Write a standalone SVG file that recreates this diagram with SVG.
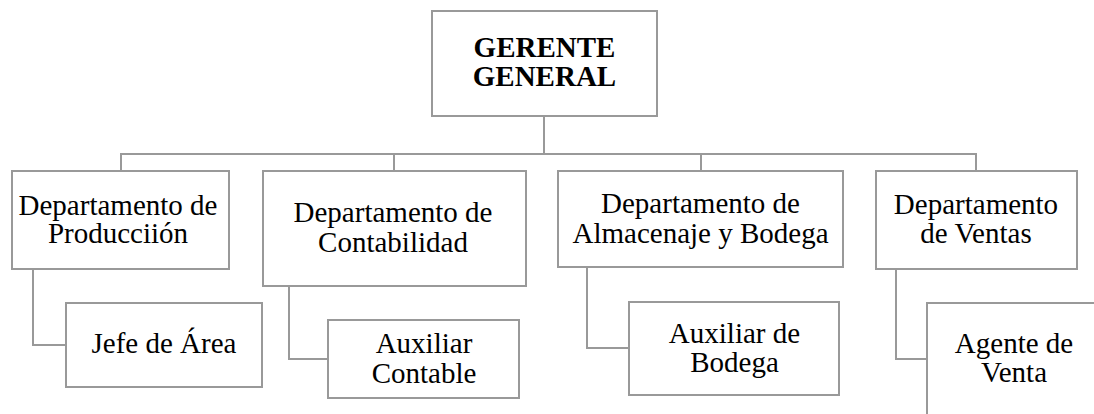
<svg xmlns="http://www.w3.org/2000/svg" width="1094" height="414" viewBox="0 0 1094 414">
<style>
.box{fill:#ffffff;stroke:#999999;stroke-width:2}
.ln{fill:none;stroke:#999999;stroke-width:2}
text{font-size:29px;fill:#000000;text-anchor:middle}
.b{font-weight:bold}
</style>
<rect width="1094" height="414" fill="#ffffff"/>
<g id="connectors">
<path class="ln" d="M544,116 V154"/>
<path class="ln" d="M121,171 V154 H976 V171"/>
<path class="ln" d="M394,154 V171"/>
<path class="ln" d="M701,154 V171"/>
<path class="ln" d="M33,269 V345 H66"/>
<path class="ln" d="M289,286 V359 H328"/>
<path class="ln" d="M587,267 V348 H629"/>
<path class="ln" d="M896,269 V359 H927"/>
</g>
<g font-family="'Liberation Serif', 'Times New Roman', Tinos, 'DejaVu Serif', serif">
<g id="gerente">
<rect class="box" x="432" y="11" width="225" height="105"/>
<text class="b" x="544.5" y="57">GERENTE</text>
<text class="b" x="544.5" y="86">GENERAL</text>
</g>
<g id="produccion">
<rect class="box" x="12" y="171" width="217" height="98"/>
<text x="118" y="215">Departamento de</text>
<text x="118" y="243">Producciión</text>
</g>
<g id="contabilidad">
<rect class="box" x="263" y="171" width="263" height="115"/>
<text x="393" y="222">Departamento de</text>
<text x="393" y="252">Contabilidad</text>
</g>
<g id="almacenaje">
<rect class="box" x="558" y="171" width="285" height="96"/>
<text x="700.5" y="213">Departamento de</text>
<text x="700.5" y="243">Almacenaje y Bodega</text>
</g>
<g id="ventas">
<rect class="box" x="876" y="171" width="201" height="98"/>
<text x="976" y="214">Departamento</text>
<text x="976" y="243">de Ventas</text>
</g>
<g id="jefe">
<rect class="box" x="66" y="303" width="196" height="84"/>
<text x="164" y="353">Jefe de Área</text>
</g>
<g id="auxcontable">
<rect class="box" x="328" y="320" width="191" height="78"/>
<text x="424" y="353">Auxiliar</text>
<text x="424" y="383">Contable</text>
</g>
<g id="auxbodega">
<rect class="box" x="629" y="302" width="210" height="93"/>
<text x="734.5" y="343">Auxiliar de</text>
<text x="734.5" y="372">Bodega</text>
</g>
<g id="agente">
<rect class="box" x="927" y="303" width="176" height="120"/>
<text x="1014" y="353">Agente de</text>
<text x="1014" y="382">Venta</text>
</g>
</g>
</svg>
